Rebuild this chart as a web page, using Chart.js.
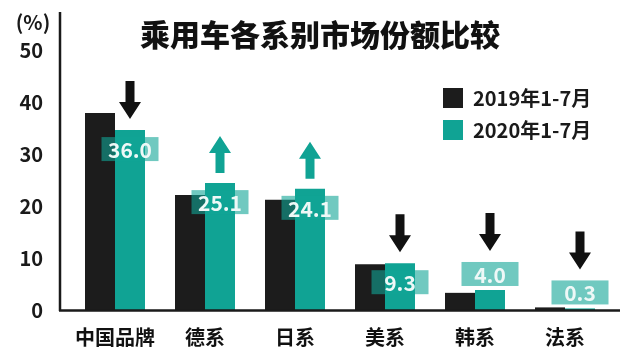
<!DOCTYPE html>
<html><head><meta charset="utf-8">
<style>html,body{margin:0;padding:0;background:#fff}</style>
<script src="https://cdn.jsdelivr.net/npm/chart.js@4/dist/chart.umd.min.js"></script>
</head><body>
<canvas id="c" width="640" height="360"></canvas>
<script>
const categories = ['中国品牌', '德系', '日系', '美系', '韩系', '法系'];
const seriesNames = ['2019年1-7月', '2020年1-7月'];
const share2019 = [37.9, 22.1, 21.2, 8.8, 3.3, 0.5];
const share2020 = [34.6, 24.4, 23.3, 9.0, 3.85, 0.3];
const labels2020 = ['36.0', '25.1', '24.1', '9.3', '4.0', '0.3'];
const trend = ['down', 'up', 'up', 'down', 'down', 'down'];
const yTicks = [0, 10, 20, 30, 40, 50];
const titleText = '乘用车各系别市场份额比较';
const unitText = '(%)';

const FONT = "'Noto Sans CJK SC', 'Noto Sans', sans-serif";
Chart.defaults.font.family = FONT;
const BLACK = '#1c1c1c';
const TEAL = '#10a394';

const overlay = {
  id: 'overlay',
  afterLayout(chart) {
    const lg = chart.legend;
    if (lg) {
      lg.left = 431; lg.top = 76;
      lg.right = lg.left + lg.width; lg.bottom = lg.top + lg.height;
    }
    const tb = chart.titleBlock;
    if (tb) { tb.left = 0; tb.right = chart.width; tb.width = chart.width; }
  },
  afterDatasetsDraw(chart) {
    const ctx = chart.ctx, ys = chart.scales.y, ca = chart.chartArea;
    const y0 = ys.getPixelForValue(0);
    ctx.save();
    // axes
    ctx.strokeStyle = '#1a1a1a';
    ctx.lineWidth = 2.5;
    ctx.beginPath();
    ctx.moveTo(ca.left - 10, 12); ctx.lineTo(ca.left - 10, y0 + 1);
    ctx.moveTo(ca.left - 11, y0 + 0.5); ctx.lineTo(ca.right + 10, y0 + 0.5);
    ctx.stroke();
    // unit
    ctx.fillStyle = '#1a1a1a';
    ctx.font = 'bold 20px ' + FONT;
    ctx.textAlign = 'center'; ctx.textBaseline = 'middle';
    ctx.fillText(unitText, 33, 22);

    const meta = chart.getDatasetMeta(1);
    meta.data.forEach((el, i) => {
      const cx = el.x, top = el.y;
      const inside = share2020[i] >= 5;
      const cy = inside ? top + 19 : top - 16;
      const w = 57, h = 24;
      ctx.fillStyle = 'rgba(16,165,150,0.6)';
      ctx.fillRect(cx - w / 2, cy - h / 2, w, h);
      ctx.fillStyle = '#eef8f7';
      ctx.font = 'bold 21px ' + FONT;
      ctx.textAlign = 'center'; ctx.textBaseline = 'middle';
      ctx.fillText(labels2020[i], cx, cy + 1);

      const topmost = Math.min(top, cy - h / 2);
      ctx.beginPath();
      if (trend[i] === 'down') {
        const tip = topmost - 11, s = tip - 38;
        ctx.moveTo(cx - 4.5, s); ctx.lineTo(cx + 4.5, s);
        ctx.lineTo(cx + 4.5, s + 21); ctx.lineTo(cx + 11, s + 21);
        ctx.lineTo(cx, tip); ctx.lineTo(cx - 11, s + 21);
        ctx.lineTo(cx - 4.5, s + 21);
        ctx.fillStyle = '#111';
      } else {
        const b = topmost - 10, tip = b - 37;
        ctx.moveTo(cx - 4.5, b); ctx.lineTo(cx + 4.5, b);
        ctx.lineTo(cx + 4.5, tip + 17); ctx.lineTo(cx + 11, tip + 17);
        ctx.lineTo(cx, tip); ctx.lineTo(cx - 11, tip + 17);
        ctx.lineTo(cx - 4.5, tip + 17);
        ctx.fillStyle = TEAL;
      }
      ctx.closePath();
      ctx.fill();
    });
    ctx.restore();
  }
};

new Chart(document.getElementById('c'), {
  type: 'bar',
  data: {
    labels: categories,
    datasets: [
      { label: seriesNames[0], data: share2019, backgroundColor: BLACK, borderWidth: 0 },
      { label: seriesNames[1], data: share2020, backgroundColor: TEAL, borderWidth: 0 }
    ]
  },
  options: {
    responsive: false,
    animation: false,
    events: [],
    layout: { padding: { left: 0, right: 30, top: 0, bottom: 0 } },
    datasets: { bar: { categoryPercentage: 2 / 3, barPercentage: 1 } },
    plugins: {
      title: {
        display: true, text: titleText, color: '#111',
        font: { size: 30, weight: '900', lineHeight: 1 },
        padding: { top: 20, bottom: 0 }
      },
      legend: {
        position: 'chartArea', align: 'start',
        labels: {
          boxWidth: 20, boxHeight: 20, padding: 12, color: '#1a1a1a',
          font: { size: 20, weight: 'bold' }
        }
      },
      tooltip: { enabled: false }
    },
    scales: {
      x: {
        grid: { display: false, drawTicks: false },
        border: { display: false },
        ticks: { color: '#111', font: { size: 20, weight: 'bold' }, padding: 15 },
        afterFit: s => { s.height = 50; }
      },
      y: {
        min: 0, max: 50,
        afterBuildTicks: s => { s.ticks = yTicks.map(v => ({ value: v })); },
        grid: { display: false, drawTicks: false },
        border: { display: false },
        ticks: { color: '#1a1a1a', font: { size: 20, weight: 'bold' }, padding: 27 },
        afterFit: s => { s.width = 70; }
      }
    }
  },
  plugins: [overlay]
});
</script>
</body></html>
